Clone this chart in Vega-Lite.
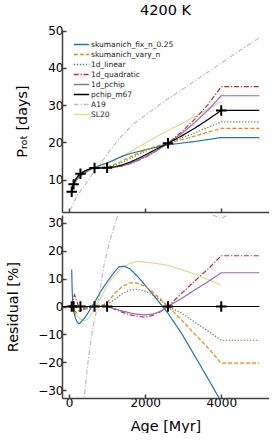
{
  "$schema": "https://vega.github.io/schema/vega-lite/v6.json",
  "padding": {"left": 5, "top": 3, "right": 0, "bottom": 0},
  "spacing": 2,
  "config": {
    "font": "DejaVu Sans",
    "view": {"stroke": null},
    "axis": {"grid": false, "domainColor": "#404040", "domainWidth": 1.5, "tickColor": "#404040", "tickWidth": 1.5, "tickSize": -4, "labelFontSize": 12, "labelColor": "#000", "titleFontSize": 14.4, "titleFontWeight": "normal", "titleColor": "#000", "labelPadding": 3, "format": "d", "labelOverlap": false, "labelFlush": false}
  },
  "datasets": {
    "lines": [
      {"model":"A19","age":30,"prot":1.7},{"model":"A19","age":100,"prot":3.4},{"model":"A19","age":184,"prot":5.1},{"model":"A19","age":300,"prot":6.9},{"model":"A19","age":450,"prot":9.0},{"model":"A19","age":600,"prot":11.3},{"model":"A19","age":750,"prot":13.3},{"model":"A19","age":1000,"prot":16.8},{"model":"A19","age":1300,"prot":20.8},{"model":"A19","age":1700,"prot":25.0},{"model":"A19","age":2400,"prot":30.3},{"model":"A19","age":3000,"prot":34.4},{"model":"A19","age":3500,"prot":37.9},{"model":"A19","age":4000,"prot":41.3},{"model":"A19","age":4500,"prot":44.8},{"model":"A19","age":5000,"prot":48.1},
      {"model":"SL20","age":70,"prot":6.69},{"model":"SL20","age":95,"prot":7.77},{"model":"SL20","age":120,"prot":8.6},{"model":"SL20","age":165,"prot":9.51},{"model":"SL20","age":210,"prot":10.23},{"model":"SL20","age":255,"prot":10.75},{"model":"SL20","age":300,"prot":11.1},{"model":"SL20","age":392,"prot":11.6},{"model":"SL20","age":485,"prot":12.09},{"model":"SL20","age":578,"prot":12.58},{"model":"SL20","age":670,"prot":13.05},{"model":"SL20","age":835,"prot":13.57},{"model":"SL20","age":1000,"prot":14.29},{"model":"SL20","age":1200,"prot":15.16},{"model":"SL20","age":1400,"prot":16.23},{"model":"SL20","age":1600,"prot":17.4},{"model":"SL20","age":1800,"prot":18.62},{"model":"SL20","age":2000,"prot":19.75},{"model":"SL20","age":2200,"prot":20.95},{"model":"SL20","age":2400,"prot":22.12},{"model":"SL20","age":2600,"prot":23.21},{"model":"SL20","age":2950,"prot":25.01},{"model":"SL20","age":3300,"prot":26.92},{"model":"SL20","age":3650,"prot":28.93},{"model":"SL20","age":4000,"prot":30.95},
      {"model":"skumanich_fix_n_0.25","age":70,"prot":7.8},{"model":"skumanich_fix_n_0.25","age":95,"prot":8.35},{"model":"skumanich_fix_n_0.25","age":120,"prot":8.64},{"model":"skumanich_fix_n_0.25","age":165,"prot":9.39},{"model":"skumanich_fix_n_0.25","age":210,"prot":10.03},{"model":"skumanich_fix_n_0.25","age":255,"prot":10.55},{"model":"skumanich_fix_n_0.25","age":300,"prot":10.96},{"model":"skumanich_fix_n_0.25","age":392,"prot":11.68},{"model":"skumanich_fix_n_0.25","age":485,"prot":12.33},{"model":"skumanich_fix_n_0.25","age":578,"prot":12.91},{"model":"skumanich_fix_n_0.25","age":670,"prot":13.29},{"model":"skumanich_fix_n_0.25","age":835,"prot":13.92},{"model":"skumanich_fix_n_0.25","age":1000,"prot":14.47},{"model":"skumanich_fix_n_0.25","age":1200,"prot":15.37},{"model":"skumanich_fix_n_0.25","age":1400,"prot":16.31},{"model":"skumanich_fix_n_0.25","age":1600,"prot":16.99},{"model":"skumanich_fix_n_0.25","age":1800,"prot":17.49},{"model":"skumanich_fix_n_0.25","age":2000,"prot":17.98},{"model":"skumanich_fix_n_0.25","age":2200,"prot":18.49},{"model":"skumanich_fix_n_0.25","age":2400,"prot":18.95},{"model":"skumanich_fix_n_0.25","age":2600,"prot":19.34},{"model":"skumanich_fix_n_0.25","age":2950,"prot":19.8},{"model":"skumanich_fix_n_0.25","age":3300,"prot":20.24},{"model":"skumanich_fix_n_0.25","age":3650,"prot":20.76},{"model":"skumanich_fix_n_0.25","age":4000,"prot":21.31},{"model":"skumanich_fix_n_0.25","age":5000,"prot":21.31},
      {"model":"skumanich_vary_n","age":70,"prot":6.76},{"model":"skumanich_vary_n","age":95,"prot":7.79},{"model":"skumanich_vary_n","age":120,"prot":8.6},{"model":"skumanich_vary_n","age":165,"prot":9.54},{"model":"skumanich_vary_n","age":210,"prot":10.35},{"model":"skumanich_vary_n","age":255,"prot":10.98},{"model":"skumanich_vary_n","age":300,"prot":11.43},{"model":"skumanich_vary_n","age":392,"prot":12.12},{"model":"skumanich_vary_n","age":485,"prot":12.61},{"model":"skumanich_vary_n","age":578,"prot":12.94},{"model":"skumanich_vary_n","age":670,"prot":13.1},{"model":"skumanich_vary_n","age":835,"prot":13.18},{"model":"skumanich_vary_n","age":1000,"prot":13.39},{"model":"skumanich_vary_n","age":1200,"prot":14.1},{"model":"skumanich_vary_n","age":1400,"prot":15.04},{"model":"skumanich_vary_n","age":1600,"prot":16.07},{"model":"skumanich_vary_n","age":1800,"prot":17.03},{"model":"skumanich_vary_n","age":2000,"prot":17.9},{"model":"skumanich_vary_n","age":2200,"prot":18.65},{"model":"skumanich_vary_n","age":2400,"prot":19.28},{"model":"skumanich_vary_n","age":2600,"prot":19.8},{"model":"skumanich_vary_n","age":2950,"prot":20.71},{"model":"skumanich_vary_n","age":3300,"prot":21.68},{"model":"skumanich_vary_n","age":3650,"prot":22.75},{"model":"skumanich_vary_n","age":4000,"prot":23.77},{"model":"skumanich_vary_n","age":5000,"prot":23.77},
      {"model":"1d_linear","age":70,"prot":6.76},{"model":"1d_linear","age":95,"prot":7.83},{"model":"1d_linear","age":120,"prot":8.65},{"model":"1d_linear","age":165,"prot":9.6},{"model":"1d_linear","age":210,"prot":10.4},{"model":"1d_linear","age":255,"prot":11.02},{"model":"1d_linear","age":300,"prot":11.46},{"model":"1d_linear","age":392,"prot":12.12},{"model":"1d_linear","age":485,"prot":12.61},{"model":"1d_linear","age":578,"prot":12.94},{"model":"1d_linear","age":670,"prot":13.1},{"model":"1d_linear","age":835,"prot":13.17},{"model":"1d_linear","age":1000,"prot":13.31},{"model":"1d_linear","age":1200,"prot":13.79},{"model":"1d_linear","age":1400,"prot":14.63},{"model":"1d_linear","age":1600,"prot":15.62},{"model":"1d_linear","age":1800,"prot":16.63},{"model":"1d_linear","age":2000,"prot":17.58},{"model":"1d_linear","age":2200,"prot":18.42},{"model":"1d_linear","age":2400,"prot":19.2},{"model":"1d_linear","age":2600,"prot":19.8},{"model":"1d_linear","age":2950,"prot":21.19},{"model":"1d_linear","age":3300,"prot":22.54},{"model":"1d_linear","age":3650,"prot":24.01},{"model":"1d_linear","age":4000,"prot":25.51},{"model":"1d_linear","age":5000,"prot":25.51},
      {"model":"1d_quadratic","age":70,"prot":6.76},{"model":"1d_quadratic","age":95,"prot":8.06},{"model":"1d_quadratic","age":120,"prot":9.06},{"model":"1d_quadratic","age":165,"prot":10.11},{"model":"1d_quadratic","age":210,"prot":10.75},{"model":"1d_quadratic","age":255,"prot":11.18},{"model":"1d_quadratic","age":300,"prot":11.54},{"model":"1d_quadratic","age":392,"prot":12.08},{"model":"1d_quadratic","age":485,"prot":12.55},{"model":"1d_quadratic","age":578,"prot":12.9},{"model":"1d_quadratic","age":670,"prot":13.1},{"model":"1d_quadratic","age":835,"prot":13.18},{"model":"1d_quadratic","age":1000,"prot":13.2},{"model":"1d_quadratic","age":1200,"prot":13.32},{"model":"1d_quadratic","age":1400,"prot":13.69},{"model":"1d_quadratic","age":1600,"prot":14.27},{"model":"1d_quadratic","age":1800,"prot":15.07},{"model":"1d_quadratic","age":2000,"prot":15.99},{"model":"1d_quadratic","age":2200,"prot":17.13},{"model":"1d_quadratic","age":2400,"prot":18.41},{"model":"1d_quadratic","age":2600,"prot":19.8},{"model":"1d_quadratic","age":2950,"prot":22.73},{"model":"1d_quadratic","age":3300,"prot":26.18},{"model":"1d_quadratic","age":3650,"prot":30.16},{"model":"1d_quadratic","age":4000,"prot":34.96},{"model":"1d_quadratic","age":5000,"prot":34.96},
      {"model":"1d_pchip","age":70,"prot":6.76},{"model":"1d_pchip","age":95,"prot":7.89},{"model":"1d_pchip","age":120,"prot":8.76},{"model":"1d_pchip","age":165,"prot":9.77},{"model":"1d_pchip","age":210,"prot":10.58},{"model":"1d_pchip","age":255,"prot":11.19},{"model":"1d_pchip","age":300,"prot":11.6},{"model":"1d_pchip","age":392,"prot":12.19},{"model":"1d_pchip","age":485,"prot":12.65},{"model":"1d_pchip","age":578,"prot":12.96},{"model":"1d_pchip","age":670,"prot":13.1},{"model":"1d_pchip","age":835,"prot":13.15},{"model":"1d_pchip","age":1000,"prot":13.2},{"model":"1d_pchip","age":1200,"prot":13.34},{"model":"1d_pchip","age":1400,"prot":13.74},{"model":"1d_pchip","age":1600,"prot":14.37},{"model":"1d_pchip","age":1800,"prot":15.18},{"model":"1d_pchip","age":2000,"prot":16.13},{"model":"1d_pchip","age":2200,"prot":17.22},{"model":"1d_pchip","age":2400,"prot":18.43},{"model":"1d_pchip","age":2600,"prot":19.8},{"model":"1d_pchip","age":2950,"prot":22.3},{"model":"1d_pchip","age":3300,"prot":25.29},{"model":"1d_pchip","age":3650,"prot":28.67},{"model":"1d_pchip","age":4000,"prot":32.54},{"model":"1d_pchip","age":5000,"prot":32.54},
      {"model":"pchip_m67","age":70,"prot":6.76},{"model":"pchip_m67","age":95,"prot":7.89},{"model":"pchip_m67","age":120,"prot":8.76},{"model":"pchip_m67","age":165,"prot":9.77},{"model":"pchip_m67","age":210,"prot":10.58},{"model":"pchip_m67","age":255,"prot":11.19},{"model":"pchip_m67","age":300,"prot":11.6},{"model":"pchip_m67","age":392,"prot":12.19},{"model":"pchip_m67","age":485,"prot":12.65},{"model":"pchip_m67","age":578,"prot":12.96},{"model":"pchip_m67","age":670,"prot":13.1},{"model":"pchip_m67","age":835,"prot":13.15},{"model":"pchip_m67","age":1000,"prot":13.2},{"model":"pchip_m67","age":1200,"prot":13.45},{"model":"pchip_m67","age":1400,"prot":13.96},{"model":"pchip_m67","age":1600,"prot":14.7},{"model":"pchip_m67","age":1800,"prot":15.6},{"model":"pchip_m67","age":2000,"prot":16.61},{"model":"pchip_m67","age":2200,"prot":17.68},{"model":"pchip_m67","age":2400,"prot":18.76},{"model":"pchip_m67","age":2600,"prot":19.8},{"model":"pchip_m67","age":2950,"prot":21.68},{"model":"pchip_m67","age":3300,"prot":23.8},{"model":"pchip_m67","age":3650,"prot":26.12},{"model":"pchip_m67","age":4000,"prot":28.6},{"model":"pchip_m67","age":5000,"prot":28.6}
    ],
    "res": [
      {"model":"A19","age":300,"res":-70},{"model":"A19","age":395,"res":-33},{"model":"A19","age":500,"res":-19.7},{"model":"A19","age":620,"res":-8},{"model":"A19","age":747,"res":0},{"model":"A19","age":850,"res":9},{"model":"A19","age":923,"res":15},{"model":"A19","age":1050,"res":22.5},{"model":"A19","age":1229,"res":30.7},{"model":"A19","age":1500,"res":40},{"model":"A19","age":2000,"res":45},{"model":"A19","age":2600,"res":42},{"model":"A19","age":3300,"res":36.5},{"model":"A19","age":3774,"res":32.8},{"model":"A19","age":4000,"res":31.6},{"model":"A19","age":4169,"res":32.8},{"model":"A19","age":4500,"res":35.2},{"model":"A19","age":5000,"res":38.5},
      {"model":"SL20","age":70,"res":-1},{"model":"SL20","age":120,"res":-1.9},{"model":"SL20","age":165,"res":-2.7},{"model":"SL20","age":210,"res":-3.4},{"model":"SL20","age":255,"res":-4.05},{"model":"SL20","age":300,"res":-4.5},{"model":"SL20","age":392,"res":-5.1},{"model":"SL20","age":485,"res":-4.6},{"model":"SL20","age":578,"res":-3.0},{"model":"SL20","age":670,"res":-0.4},{"model":"SL20","age":835,"res":3.1},{"model":"SL20","age":1000,"res":7.6},{"model":"SL20","age":1200,"res":11.3},{"model":"SL20","age":1400,"res":14.0},{"model":"SL20","age":1600,"res":15.5},{"model":"SL20","age":1800,"res":16.2},{"model":"SL20","age":2000,"res":15.9},{"model":"SL20","age":2200,"res":15.6},{"model":"SL20","age":2400,"res":15.2},{"model":"SL20","age":2600,"res":14.7},{"model":"SL20","age":2950,"res":13.3},{"model":"SL20","age":3300,"res":11.6},{"model":"SL20","age":3650,"res":9.7},{"model":"SL20","age":4000,"res":7.6},
      {"model":"skumanich_fix_n_0.25","age":70,"res":13.3},{"model":"skumanich_fix_n_0.25","age":80,"res":7},{"model":"skumanich_fix_n_0.25","age":95,"res":2},{"model":"skumanich_fix_n_0.25","age":120,"res":-1.4},{"model":"skumanich_fix_n_0.25","age":165,"res":-4.1},{"model":"skumanich_fix_n_0.25","age":210,"res":-5.5},{"model":"skumanich_fix_n_0.25","age":260,"res":-6.2},{"model":"skumanich_fix_n_0.25","age":300,"res":-5.8},{"model":"skumanich_fix_n_0.25","age":392,"res":-4.4},{"model":"skumanich_fix_n_0.25","age":485,"res":-2.6},{"model":"skumanich_fix_n_0.25","age":600,"res":0},{"model":"skumanich_fix_n_0.25","age":670,"res":1.4},{"model":"skumanich_fix_n_0.25","age":835,"res":5.5},{"model":"skumanich_fix_n_0.25","age":1000,"res":8.8},{"model":"skumanich_fix_n_0.25","age":1200,"res":12.5},{"model":"skumanich_fix_n_0.25","age":1320,"res":14.3},{"model":"skumanich_fix_n_0.25","age":1450,"res":14.4},{"model":"skumanich_fix_n_0.25","age":1600,"res":13.5},{"model":"skumanich_fix_n_0.25","age":1800,"res":10.8},{"model":"skumanich_fix_n_0.25","age":2000,"res":7.6},{"model":"skumanich_fix_n_0.25","age":2200,"res":4.4},{"model":"skumanich_fix_n_0.25","age":2400,"res":1.0},{"model":"skumanich_fix_n_0.25","age":2460,"res":0},{"model":"skumanich_fix_n_0.25","age":2600,"res":-2.4},{"model":"skumanich_fix_n_0.25","age":2950,"res":-9.5},{"model":"skumanich_fix_n_0.25","age":3300,"res":-17.6},{"model":"skumanich_fix_n_0.25","age":3650,"res":-25.8},{"model":"skumanich_fix_n_0.25","age":4000,"res":-34.2},{"model":"skumanich_fix_n_0.25","age":5000,"res":-34.2},
      {"model":"skumanich_vary_n","age":70,"res":0},{"model":"skumanich_vary_n","age":95,"res":-1.3},{"model":"skumanich_vary_n","age":120,"res":-1.9},{"model":"skumanich_vary_n","age":165,"res":-2.45},{"model":"skumanich_vary_n","age":210,"res":-2.2},{"model":"skumanich_vary_n","age":255,"res":-1.95},{"model":"skumanich_vary_n","age":300,"res":-1.5},{"model":"skumanich_vary_n","age":392,"res":-0.6},{"model":"skumanich_vary_n","age":485,"res":-0.35},{"model":"skumanich_vary_n","age":578,"res":-0.15},{"model":"skumanich_vary_n","age":670,"res":0},{"model":"skumanich_vary_n","age":835,"res":0.2},{"model":"skumanich_vary_n","age":1000,"res":1.4},{"model":"skumanich_vary_n","age":1200,"res":4.6},{"model":"skumanich_vary_n","age":1400,"res":7.2},{"model":"skumanich_vary_n","age":1600,"res":8.5},{"model":"skumanich_vary_n","age":1800,"res":8.4},{"model":"skumanich_vary_n","age":2000,"res":7.2},{"model":"skumanich_vary_n","age":2200,"res":5.2},{"model":"skumanich_vary_n","age":2400,"res":2.7},{"model":"skumanich_vary_n","age":2600,"res":0},{"model":"skumanich_vary_n","age":2950,"res":-4.7},{"model":"skumanich_vary_n","age":3300,"res":-9.8},{"model":"skumanich_vary_n","age":3650,"res":-14.8},{"model":"skumanich_vary_n","age":4000,"res":-20.3},{"model":"skumanich_vary_n","age":5000,"res":-20.3},
      {"model":"1d_linear","age":70,"res":0},{"model":"1d_linear","age":95,"res":-0.8},{"model":"1d_linear","age":120,"res":-1.3},{"model":"1d_linear","age":165,"res":-1.8},{"model":"1d_linear","age":210,"res":-1.7},{"model":"1d_linear","age":255,"res":-1.5},{"model":"1d_linear","age":300,"res":-1.2},{"model":"1d_linear","age":392,"res":-0.55},{"model":"1d_linear","age":485,"res":-0.3},{"model":"1d_linear","age":578,"res":-0.15},{"model":"1d_linear","age":670,"res":0},{"model":"1d_linear","age":835,"res":0.15},{"model":"1d_linear","age":1000,"res":0.8},{"model":"1d_linear","age":1200,"res":2.5},{"model":"1d_linear","age":1400,"res":4.6},{"model":"1d_linear","age":1600,"res":5.9},{"model":"1d_linear","age":1800,"res":6.2},{"model":"1d_linear","age":2000,"res":5.5},{"model":"1d_linear","age":2200,"res":4.0},{"model":"1d_linear","age":2400,"res":2.3},{"model":"1d_linear","age":2600,"res":0},{"model":"1d_linear","age":2950,"res":-2.3},{"model":"1d_linear","age":3300,"res":-5.6},{"model":"1d_linear","age":3650,"res":-8.8},{"model":"1d_linear","age":4000,"res":-12.1},{"model":"1d_linear","age":5000,"res":-12.1},
      {"model":"1d_quadratic","age":70,"res":0},{"model":"1d_quadratic","age":95,"res":2.1},{"model":"1d_quadratic","age":120,"res":3.3},{"model":"1d_quadratic","age":145,"res":4.2},{"model":"1d_quadratic","age":165,"res":3.4},{"model":"1d_quadratic","age":210,"res":1.6},{"model":"1d_quadratic","age":255,"res":-0.1},{"model":"1d_quadratic","age":300,"res":-0.5},{"model":"1d_quadratic","age":392,"res":-0.95},{"model":"1d_quadratic","age":485,"res":-0.8},{"model":"1d_quadratic","age":578,"res":-0.45},{"model":"1d_quadratic","age":670,"res":0},{"model":"1d_quadratic","age":835,"res":0.2},{"model":"1d_quadratic","age":1000,"res":0},{"model":"1d_quadratic","age":1200,"res":-1.0},{"model":"1d_quadratic","age":1400,"res":-2.0},{"model":"1d_quadratic","age":1600,"res":-3.0},{"model":"1d_quadratic","age":1800,"res":-3.5},{"model":"1d_quadratic","age":2000,"res":-3.85},{"model":"1d_quadratic","age":2200,"res":-3.2},{"model":"1d_quadratic","age":2400,"res":-1.9},{"model":"1d_quadratic","age":2600,"res":0},{"model":"1d_quadratic","age":2950,"res":4.6},{"model":"1d_quadratic","age":3300,"res":9.1},{"model":"1d_quadratic","age":3650,"res":13.4},{"model":"1d_quadratic","age":4000,"res":18.2},{"model":"1d_quadratic","age":5000,"res":18.2},
      {"model":"1d_pchip","age":70,"res":0},{"model":"1d_pchip","age":1000,"res":0},{"model":"1d_pchip","age":1200,"res":-0.8},{"model":"1d_pchip","age":1400,"res":-1.6},{"model":"1d_pchip","age":1600,"res":-2.3},{"model":"1d_pchip","age":1800,"res":-2.8},{"model":"1d_pchip","age":2000,"res":-3.0},{"model":"1d_pchip","age":2200,"res":-2.7},{"model":"1d_pchip","age":2400,"res":-1.8},{"model":"1d_pchip","age":2600,"res":0},{"model":"1d_pchip","age":2950,"res":2.8},{"model":"1d_pchip","age":3300,"res":5.9},{"model":"1d_pchip","age":3650,"res":8.9},{"model":"1d_pchip","age":4000,"res":12.1},{"model":"1d_pchip","age":5000,"res":12.1},
      {"model":"pchip_m67","age":-185,"res":0},{"model":"pchip_m67","age":5000,"res":0}
    ],
    "pts": [
      {"age":70,"prot":6.76,"res":0},{"age":120,"prot":8.76,"res":0},{"age":300,"prot":11.6,"res":0},{"age":670,"prot":13.1,"res":0},{"age":1000,"prot":13.2,"res":0},{"age":2600,"prot":19.8,"res":0},{"age":4000,"prot":28.6,"res":0}
    ]
  },
  "resolve": {"scale": {"color": "independent", "strokeDash": "independent"}},
  "vconcat": [
    {
      "width": 207,
      "height": 182,
      "title": {"text": "4200 K", "fontSize": 14.5, "fontWeight": "normal", "anchor": "middle", "offset": 6, "color": "#000"},
      "encoding": {
        "x": {"field": "age", "type": "quantitative", "scale": {"domain": [-185, 5255], "nice": false, "zero": false}, "axis": {"values": [0, 2000, 4000], "labels": false, "title": null, "labelOverlap": false}},
        "y": {"field": "prot", "type": "quantitative", "scale": {"domain": [1.3, 50.2], "nice": false, "zero": false}, "axis": {"values": [10, 20, 30, 40, 50], "title": "Pᵣₒₜ [days]", "titleX": -33, "titleBaseline": "bottom", "labelOverlap": false, "labelBound": false}}
      },
      "layer": [
        {
          "data": {"name": "lines"},
          "mark": {"type": "line", "clip": true, "strokeWidth": 1.2},
          "encoding": {
            "color": {"field": "model", "type": "nominal",
              "scale": {"domain": ["skumanich_fix_n_0.25", "skumanich_vary_n", "1d_linear", "1d_quadratic", "1d_pchip", "pchip_m67", "A19", "SL20"], "range": ["#1f77b4", "#ff7f0e", "#2ca02c", "#d62728", "#9467bd", "#000000", "#c0c0c0", "#dcdc8c"]},
              "legend": {"orient": "none", "legendX": 13, "legendY": 8, "title": null, "labelFontSize": 7.5, "labelColor": "#222", "symbolType": "M-1.4,0H1.4", "symbolSize": 121, "symbolStrokeWidth": 1.5, "rowPadding": 0, "padding": 0, "labelOffset": 3, "labelLimit": 200}},
            "strokeDash": {"field": "model", "type": "nominal",
              "scale": {"domain": ["skumanich_fix_n_0.25", "skumanich_vary_n", "1d_linear", "1d_quadratic", "1d_pchip", "pchip_m67", "A19", "SL20"], "range": [[1, 0], [4, 2], [1.2, 1.8], [5, 1.8, 1.2, 1.8], [1, 0], [1, 0], [5, 1.8, 1.2, 1.8], [1, 0]]},
              "legend": {"orient": "none", "legendX": 13, "legendY": 8, "title": null, "labelFontSize": 7.5, "labelColor": "#222", "symbolType": "M-1.4,0H1.4", "symbolSize": 121, "symbolStrokeWidth": 1.5, "rowPadding": 0, "padding": 0, "labelOffset": 3, "labelLimit": 200}}
          }
        },
        {
          "data": {"name": "pts"},
          "mark": {"type": "point", "shape": "M-1,0H1M0,-1V1", "filled": false, "stroke": "#000", "strokeWidth": 2, "size": 110, "opacity": 1},
          "encoding": {}
        }
      ]
    },
    {
      "width": 207,
      "height": 183,
      "encoding": {
        "x": {"field": "age", "type": "quantitative", "scale": {"domain": [-185, 5255], "nice": false, "zero": false}, "axis": {"values": [0, 2000, 4000], "title": "Age [Myr]", "titlePadding": 11, "labelOverlap": false}},
        "y": {"field": "res", "type": "quantitative", "scale": {"domain": [-32.8, 32.8], "nice": false, "zero": false}, "axis": {"values": [-30, -20, -10, 0, 10, 20, 30], "title": "Residual [%]", "titleX": -42, "titleBaseline": "bottom", "labelOverlap": false, "labelBound": false}}
      },
      "layer": [
        {
          "data": {"name": "res"},
          "mark": {"type": "line", "clip": true, "strokeWidth": 1.2},
          "encoding": {
            "color": {"field": "model", "type": "nominal",
              "scale": {"domain": ["skumanich_fix_n_0.25", "skumanich_vary_n", "1d_linear", "1d_quadratic", "1d_pchip", "pchip_m67", "A19", "SL20"], "range": ["#1f77b4", "#ff7f0e", "#2ca02c", "#d62728", "#9467bd", "#000000", "#c0c0c0", "#dcdc8c"]},
              "legend": null},
            "strokeDash": {"field": "model", "type": "nominal",
              "scale": {"domain": ["skumanich_fix_n_0.25", "skumanich_vary_n", "1d_linear", "1d_quadratic", "1d_pchip", "pchip_m67", "A19", "SL20"], "range": [[1, 0], [4, 2], [1.2, 1.8], [5, 1.8, 1.2, 1.8], [1, 0], [1, 0], [5, 1.8, 1.2, 1.8], [1, 0]]},
              "legend": null}
          }
        },
        {
          "data": {"name": "pts"},
          "mark": {"type": "point", "shape": "M-1,0H1M0,-1V1", "filled": false, "stroke": "#000", "strokeWidth": 2, "size": 110, "opacity": 1},
          "encoding": {}
        }
      ]
    }
  ]
}
